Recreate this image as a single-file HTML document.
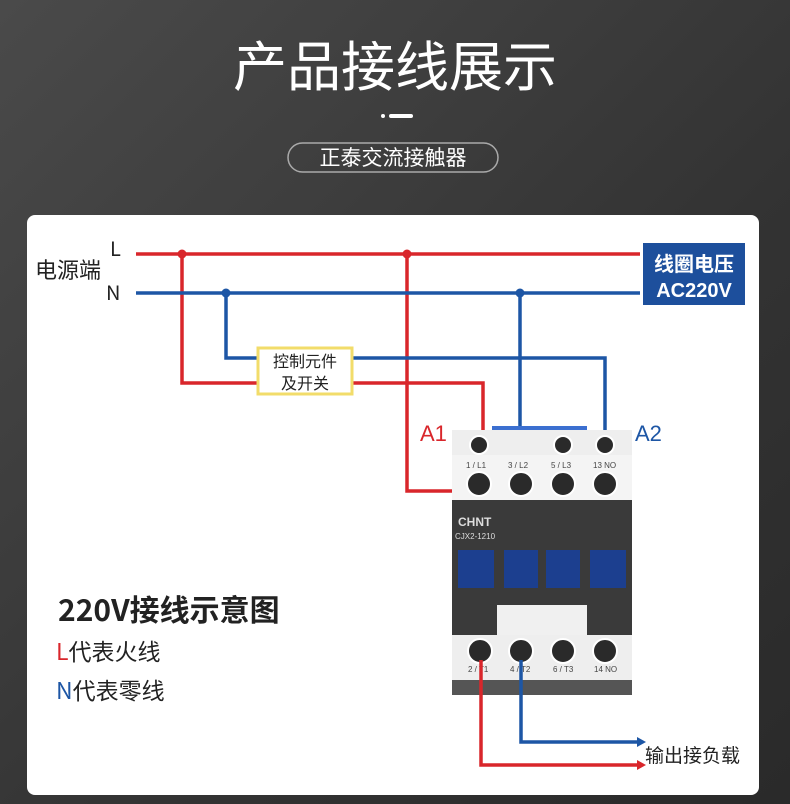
<!DOCTYPE html>
<html><head><meta charset="utf-8"><style>
html,body{margin:0;padding:0;}
body{width:790px;height:804px;overflow:hidden;background:linear-gradient(135deg,#4a4a4a 0%,#333 60%,#2a2a2a 100%);font-family:"Liberation Sans","Noto Sans CJK SC",sans-serif;position:relative;}
</style></head><body>
<svg width="790" height="804" viewBox="0 0 790 804" xmlns="http://www.w3.org/2000/svg" style="position:absolute;left:0;top:0">
<text x="395" y="86" text-anchor="middle" font-size="54" fill="#fff" font-family="Noto Sans CJK SC,sans-serif">产品接线展示</text>
<circle cx="383" cy="116" r="2" fill="#fff"/>
<rect x="389" y="114" width="24" height="4" rx="2" fill="#fff"/>
<rect x="288" y="143" width="210" height="29" rx="14.5" fill="none" stroke="#aaa" stroke-width="1.5"/>
<text x="393" y="165" text-anchor="middle" font-size="21" fill="#fff" font-family="Noto Sans CJK SC,sans-serif">正泰交流接触器</text>
<rect x="27" y="215" width="732" height="580" rx="8" fill="#fff"/>
<g font-family="Noto Sans CJK SC,sans-serif" fill="#222">
<text x="35" y="278" font-size="22">电源端</text>
<text x="110" y="256" font-size="20">L</text>
<text x="106" y="300" font-size="20">N</text>
</g>
<g fill="none" stroke-width="3.5">
<path d="M136 254H640" stroke="#d9262b"/>
<path d="M182 254V383H483V440" stroke="#d9262b"/>
<path d="M407 254V491H472" stroke="#d9262b"/>
<path d="M136 293H640" stroke="#1d56a5"/>
<path d="M226 293V358H605V440" stroke="#1d56a5"/>
<path d="M520 293V488" stroke="#1d56a5"/>
</g>
<circle cx="182" cy="254" r="4.5" fill="#d9262b"/>
<circle cx="407" cy="254" r="4.5" fill="#d9262b"/>
<circle cx="226" cy="293" r="4.5" fill="#1d56a5"/>
<circle cx="520" cy="293" r="4.5" fill="#1d56a5"/>
<rect x="643" y="243" width="102" height="62" fill="#1d4f9c"/>
<text x="694" y="271" text-anchor="middle" font-size="20" font-weight="bold" fill="#fff" font-family="Noto Sans CJK SC,sans-serif">线圈电压</text>
<text x="694" y="297" text-anchor="middle" font-size="20" font-weight="bold" fill="#fff">AC220V</text>
<rect x="258" y="348" width="94" height="46" fill="#fff" stroke="#f2dc6a" stroke-width="3"/>
<text x="305" y="367" text-anchor="middle" font-size="16" fill="#222" font-family="Noto Sans CJK SC,sans-serif">控制元件</text>
<text x="305" y="389" text-anchor="middle" font-size="16" fill="#222" font-family="Noto Sans CJK SC,sans-serif">及开关</text>
<text x="420" y="441" font-size="22" fill="#d9262b">A1</text>
<text x="635" y="441" font-size="22" fill="#1d56a5">A2</text>
<rect x="492" y="426" width="95" height="12" fill="#3b6fd0"/>
<rect x="452" y="430" width="180" height="70" fill="#eee"/>
<rect x="452" y="455" width="180" height="45" fill="#f4f4f4"/>
<rect x="452" y="500" width="180" height="135" fill="#3a3a3a"/>
<rect x="458" y="550" width="36" height="38" fill="#1c3f8f"/>
<rect x="504" y="550" width="34" height="38" fill="#1c3f8f"/>
<rect x="546" y="550" width="34" height="38" fill="#1c3f8f"/>
<rect x="590" y="550" width="36" height="38" fill="#1c3f8f"/>
<rect x="497" y="605" width="90" height="30" fill="#f0f0f0"/>
<rect x="452" y="635" width="180" height="45" fill="#eee"/>
<rect x="452" y="680" width="180" height="15" fill="#555"/>
<text x="458" y="526" font-size="12" font-weight="bold" fill="#ddd">CHNT</text>
<text x="455" y="539" font-size="8" fill="#ddd">CJX2-1210</text>
<g fill="#444" font-size="8">
<text x="466" y="468">1 / L1</text><text x="508" y="468">3 / L2</text><text x="551" y="468">5 / L3</text><text x="593" y="468">13 NO</text>
<text x="468" y="672">2 / T1</text><text x="510" y="672">4 / T2</text><text x="553" y="672">6 / T3</text><text x="594" y="672">14 NO</text>
</g>
<g fill="#2a2a2a" stroke="#fff" stroke-width="2">
<circle cx="479" cy="484" r="12"/><circle cx="521" cy="484" r="12"/><circle cx="563" cy="484" r="12"/><circle cx="605" cy="484" r="12"/>
<circle cx="480" cy="651" r="12"/><circle cx="521" cy="651" r="12"/><circle cx="563" cy="651" r="12"/><circle cx="605" cy="651" r="12"/>
<circle cx="479" cy="445" r="9"/><circle cx="563" cy="445" r="9"/><circle cx="605" cy="445" r="9"/>
</g>
<g fill="none" stroke-width="3.5">
<path d="M481 660V765H638" stroke="#d9262b"/>
<path d="M521 660V742H638" stroke="#1d56a5"/>
</g>
<path d="M646 765l-9-5v10z" fill="#d9262b"/>
<path d="M646 742l-9-5v10z" fill="#1d56a5"/>
<text x="645" y="762" font-size="19" fill="#222" font-family="Noto Sans CJK SC,sans-serif">输出接负载</text>
<text x="58" y="621" font-size="30" font-weight="bold" fill="#222" font-family="Noto Sans CJK SC,sans-serif">220V接线示意图</text>
<text x="56" y="660" font-size="23" fill="#222" font-family="Noto Sans CJK SC,sans-serif"><tspan fill="#d9262b">L</tspan>代表火线</text>
<text x="56" y="699" font-size="23" fill="#222" font-family="Noto Sans CJK SC,sans-serif"><tspan fill="#1d56a5">N</tspan>代表零线</text>
</svg>
</body></html>
